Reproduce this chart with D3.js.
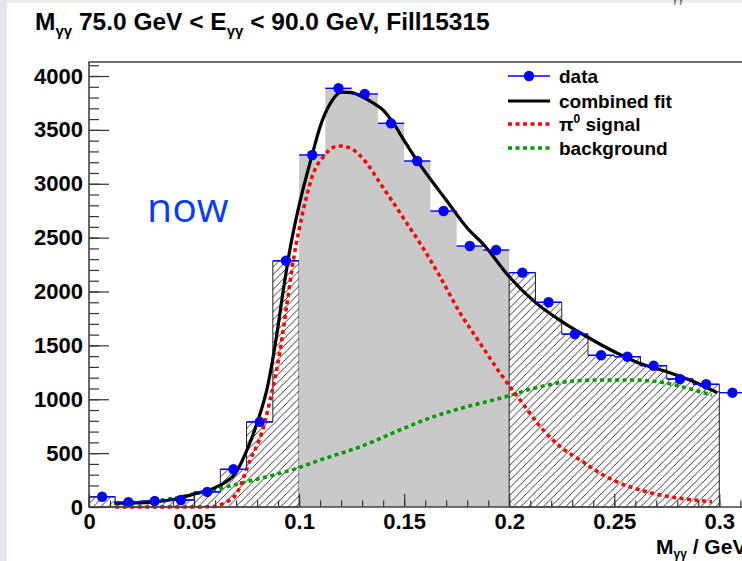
<!DOCTYPE html>
<html>
<head>
<meta charset="utf-8">
<script src="https://cdn.jsdelivr.net/npm/d3@7"></script>
<style>
  body { margin: 0; background: #fff; }
  svg { display: block; font-family: "Liberation Sans", Arial, sans-serif; }
  .tick text { font-weight: bold; font-size: 22px; fill: #000; }
  .tick line { stroke: #333; stroke-width: 1.2; }
</style>
</head>
<body>
<script>
// histogram bins (GeV)
const binEdges = [0, 0.0125, 0.025, 0.0375, 0.05, 0.0625, 0.075, 0.0875, 0.1, 0.1125, 0.125, 0.1375,
                  0.15, 0.1625, 0.175, 0.1875, 0.2, 0.2125, 0.225, 0.2375, 0.25, 0.2625, 0.275, 0.2875, 0.3, 0.3125];
const counts = [95, 45, 55, 65, 140, 350, 790, 2285, 3267, 3886, 3833, 3561, 3211, 2747, 2422, 2385,
                2175, 1900, 1605, 1408, 1395, 1311, 1188, 1139, 1061];

// combined fit
const fitX = [0.012, 0.02, 0.03, 0.04, 0.05, 0.06, 0.065, 0.07, 0.075, 0.08, 0.085, 0.09, 0.092, 0.096, 0.1, 0.1062,
              0.11, 0.115, 0.12, 0.125, 0.13, 0.135, 0.14, 0.145, 0.15, 0.156, 0.163, 0.17, 0.18, 0.188, 0.2,
              0.213, 0.224, 0.237, 0.25, 0.262, 0.275, 0.288, 0.299];
const fitY = [35, 37, 45, 70, 120, 180, 230, 320, 520, 780, 1120, 1680, 1950, 2430, 2800, 3267,
              3530, 3750, 3850, 3846, 3808, 3753, 3684, 3560, 3400, 3220, 3030, 2849, 2590, 2432, 2137,
              1890, 1735, 1580, 1441, 1334, 1256, 1163, 1061];

// pi0 signal
const sigX = [0.0125, 0.03, 0.05, 0.06, 0.064, 0.0703, 0.0767, 0.0822, 0.0862, 0.091, 0.0941, 0.0973, 0.102,
              0.1068, 0.1116, 0.1163, 0.1195, 0.1259, 0.1322, 0.1386, 0.145, 0.1513, 0.1576, 0.1671, 0.1767,
              0.1862, 0.1957, 0.2052, 0.2148, 0.2243, 0.2338, 0.2433, 0.2529, 0.2624, 0.2719, 0.2814, 0.2965];
const sigY = [0, 0, 0, 5, 34, 127, 436, 686, 993, 1457, 1870, 2292, 2756,
              3097, 3251, 3338, 3350, 3313, 3190, 3004, 2819, 2633, 2447, 2137, 1798,
              1519, 1241, 993, 745, 560, 436, 313, 220, 158, 111, 81, 49];

// background
const bgX = [0.0127, 0.0275, 0.0402, 0.0513, 0.0624, 0.0751, 0.0878, 0.0989, 0.11, 0.13, 0.148, 0.164,
             0.1799, 0.1957, 0.2116, 0.2275, 0.2433, 0.2592, 0.2751, 0.2878, 0.2965];
const bgY = [34, 49, 81, 127, 173, 235, 297, 359, 436, 566, 715, 838,
             931, 1009, 1101, 1163, 1179, 1179, 1148, 1086, 1039];

// fill regions: sidebands hatched, peak window gray
const regionLo = [0, 0.1, 0.2];
const regionHi = [0.1, 0.2, 0.3];
const regionFill = ["hatch", "gray", "hatch"];

const xTicks = [0, 0.05, 0.1, 0.15, 0.2, 0.25, 0.3];
const yTicks = [0, 500, 1000, 1500, 2000, 2500, 3000, 3500, 4000];

const legendLabels = ["data", "combined fit", "signal", "background"];

const W = 742, H = 561;
const frame = {left: 89, top: 62, bottom: 507};

const svg = d3.select("body").append("svg").attr("width", W).attr("height", H);

const defs = svg.append("defs");
defs.append("pattern")
    .attr("id", "hatch")
    .attr("patternUnits", "userSpaceOnUse")
    .attr("width", 7.5).attr("height", 7.5)
    .append("path")
    .attr("d", "M0,7.5 L7.5,0 M-2,2 L2,-2 M5.5,9.5 L9.5,5.5")
    .attr("stroke", "#000").attr("stroke-width", 0.8);

// screenshot edges
svg.append("rect").attr("width", W).attr("height", 3).attr("fill", "#ededed");
svg.append("rect").attr("width", 7).attr("height", H).attr("fill", "#e3e8ef");
svg.append("text").attr("x", 672).attr("y", 2).attr("font-size", 12).attr("fill", "#666").text("γγ");

const x = d3.scaleLinear().domain([0, 0.32]).range([frame.left, frame.left + 0.32 * 2101]);
const y = d3.scaleLinear().domain([0, 4130]).range([frame.bottom, frame.top]);

// title
const title = svg.append("text")
    .attr("x", 35).attr("y", 30)
    .attr("font-weight", "bold").attr("font-size", 24.5);
title.append("tspan").text("M");
title.append("tspan").attr("font-size", 15).attr("dy", 6).text("γγ");
title.append("tspan").attr("dy", -6).text(" 75.0 GeV < E");
title.append("tspan").attr("font-size", 15).attr("dy", 6).text("γγ");
title.append("tspan").attr("dy", -6).text(" < 90.0 GeV, Fill15315");

// histogram regions
const plot = svg.append("g");
regionLo.forEach((lo, r) => {
  const hi = regionHi[r];
  const pts = [];
  binEdges.forEach((e, i) => {
    if (e >= lo - 1e-9 && e < hi - 1e-9) pts.push([e, counts[i]]);
  });
  pts.push([hi, pts[pts.length - 1][1]]);
  const area = d3.area().curve(d3.curveStepAfter)
      .x(d => x(d[0])).y0(y(0)).y1(d => y(d[1]));
  plot.append("path")
      .attr("d", area(pts))
      .attr("fill", regionFill[r] === "gray" ? "#c9c9c9" : "url(#hatch)")
      .attr("stroke", regionFill[r] === "gray" ? "none" : "#222")
      .attr("stroke-width", 1);
});

// data points with bin-width bars
const dataG = svg.append("g");
counts.forEach((c, i) => {
  dataG.append("line")
      .attr("x1", x(binEdges[i])).attr("x2", x(binEdges[i + 1]))
      .attr("y1", y(c)).attr("y2", y(c))
      .attr("stroke", "#0000ff").attr("stroke-width", 1.4);
});

const curve = (xs, ys) => d3.line().curve(d3.curveMonotoneX)
    .x((d, i) => x(xs[i])).y((d, i) => y(ys[i]))(xs);

svg.append("path").attr("d", curve(bgX, bgY))
    .attr("fill", "none").attr("stroke", "#009a00").attr("stroke-width", 3.5)
    .attr("stroke-dasharray", "4,3.5");
svg.append("path").attr("d", curve(sigX, sigY))
    .attr("fill", "none").attr("stroke", "#ff0000").attr("stroke-width", 3.5)
    .attr("stroke-dasharray", "4,3.5");
svg.append("path").attr("d", curve(fitX, fitY))
    .attr("fill", "none").attr("stroke", "#000").attr("stroke-width", 3.2);

dataG.raise();
dataG.selectAll("circle")
    .data(counts)
    .enter().append("circle")
    .attr("cx", (d, i) => x((binEdges[i] + binEdges[i + 1]) / 2))
    .attr("cy", d => y(d))
    .attr("r", 5.2)
    .attr("fill", "#0000ff");

// axes
const yAxis = d3.axisLeft(y).tickValues(yTicks).tickSizeInner(-20).tickSizeOuter(0).tickPadding(6).tickFormat(d => d);
const yMinor = d3.axisLeft(y).tickValues(d3.range(0, 4101, 100)).tickSize(-10).tickFormat("");
svg.append("g").attr("transform", `translate(${frame.left},0)`).call(yMinor).call(g => g.select(".domain").remove());
svg.append("g").attr("transform", `translate(${frame.left},0)`).call(yAxis).call(g => g.select(".domain").remove());

const xAxis = d3.axisBottom(x).tickValues(xTicks).tickSizeInner(-13).tickSizeOuter(0).tickPadding(6).tickFormat(d => d);
const xMinor = d3.axisBottom(x).tickValues(d3.range(0, 0.3151, 0.01)).tickSize(-6.5).tickFormat("");
svg.append("g").attr("transform", `translate(0,${frame.bottom})`).call(xMinor).call(g => g.select(".domain").remove());
svg.append("g").attr("transform", `translate(0,${frame.bottom})`).call(xAxis).call(g => g.select(".domain").remove());

// frame
svg.append("path")
    .attr("d", `M${W + 5},${frame.top} H${frame.left} V${frame.bottom} H${W + 5}`)
    .attr("fill", "none").attr("stroke", "#444").attr("stroke-width", 1.6);

// x-axis title (runs off the right edge, as in the source)
const xt = svg.append("text").attr("x", 656).attr("y", 554)
    .attr("font-weight", "bold").attr("font-size", 21);
xt.append("tspan").text("M");
xt.append("tspan").attr("font-size", 12).attr("dy", 4).text("γγ");
xt.append("tspan").attr("dy", -4).text(" / GeV");

// annotation
svg.append("text").attr("x", 147).attr("y", 222)
    .attr("font-family", "Open Sans").attr("font-size", 41)
    .attr("fill", "#0a3cff").text("now");

// legend
const legendY = [76, 101, 124, 148];
const lg = svg.append("g");
lg.append("rect").attr("x", 490).attr("y", 64).attr("width", 252).attr("height", 96).attr("fill", "#fff");
legendLabels.forEach((lab, i) => {
  const ly = legendY[i];
  const ln = lg.append("line").attr("x1", 508).attr("x2", 550).attr("y1", ly).attr("y2", ly);
  if (i === 0) {
    ln.attr("stroke", "#0000ff").attr("stroke-width", 1.4);
    lg.append("circle").attr("cx", 529).attr("cy", ly).attr("r", 5.2).attr("fill", "#0000ff");
  } else if (i === 1) {
    ln.attr("stroke", "#000").attr("stroke-width", 3.2);
  } else {
    ln.attr("stroke", i === 2 ? "#ff0000" : "#009a00").attr("stroke-width", 3.5).attr("stroke-dasharray", "4,3.5");
  }
  const t = lg.append("text").attr("x", 559).attr("y", ly + 6.5)
      .attr("font-weight", "bold").attr("font-size", 19);
  if (i === 2) {
    t.append("tspan").text("π");
    t.append("tspan").attr("font-size", 12).attr("dy", -8).text("0");
    t.append("tspan").attr("dy", 8).text(" " + lab);
  } else {
    t.text(lab);
  }
});
</script>
</body>
</html>
